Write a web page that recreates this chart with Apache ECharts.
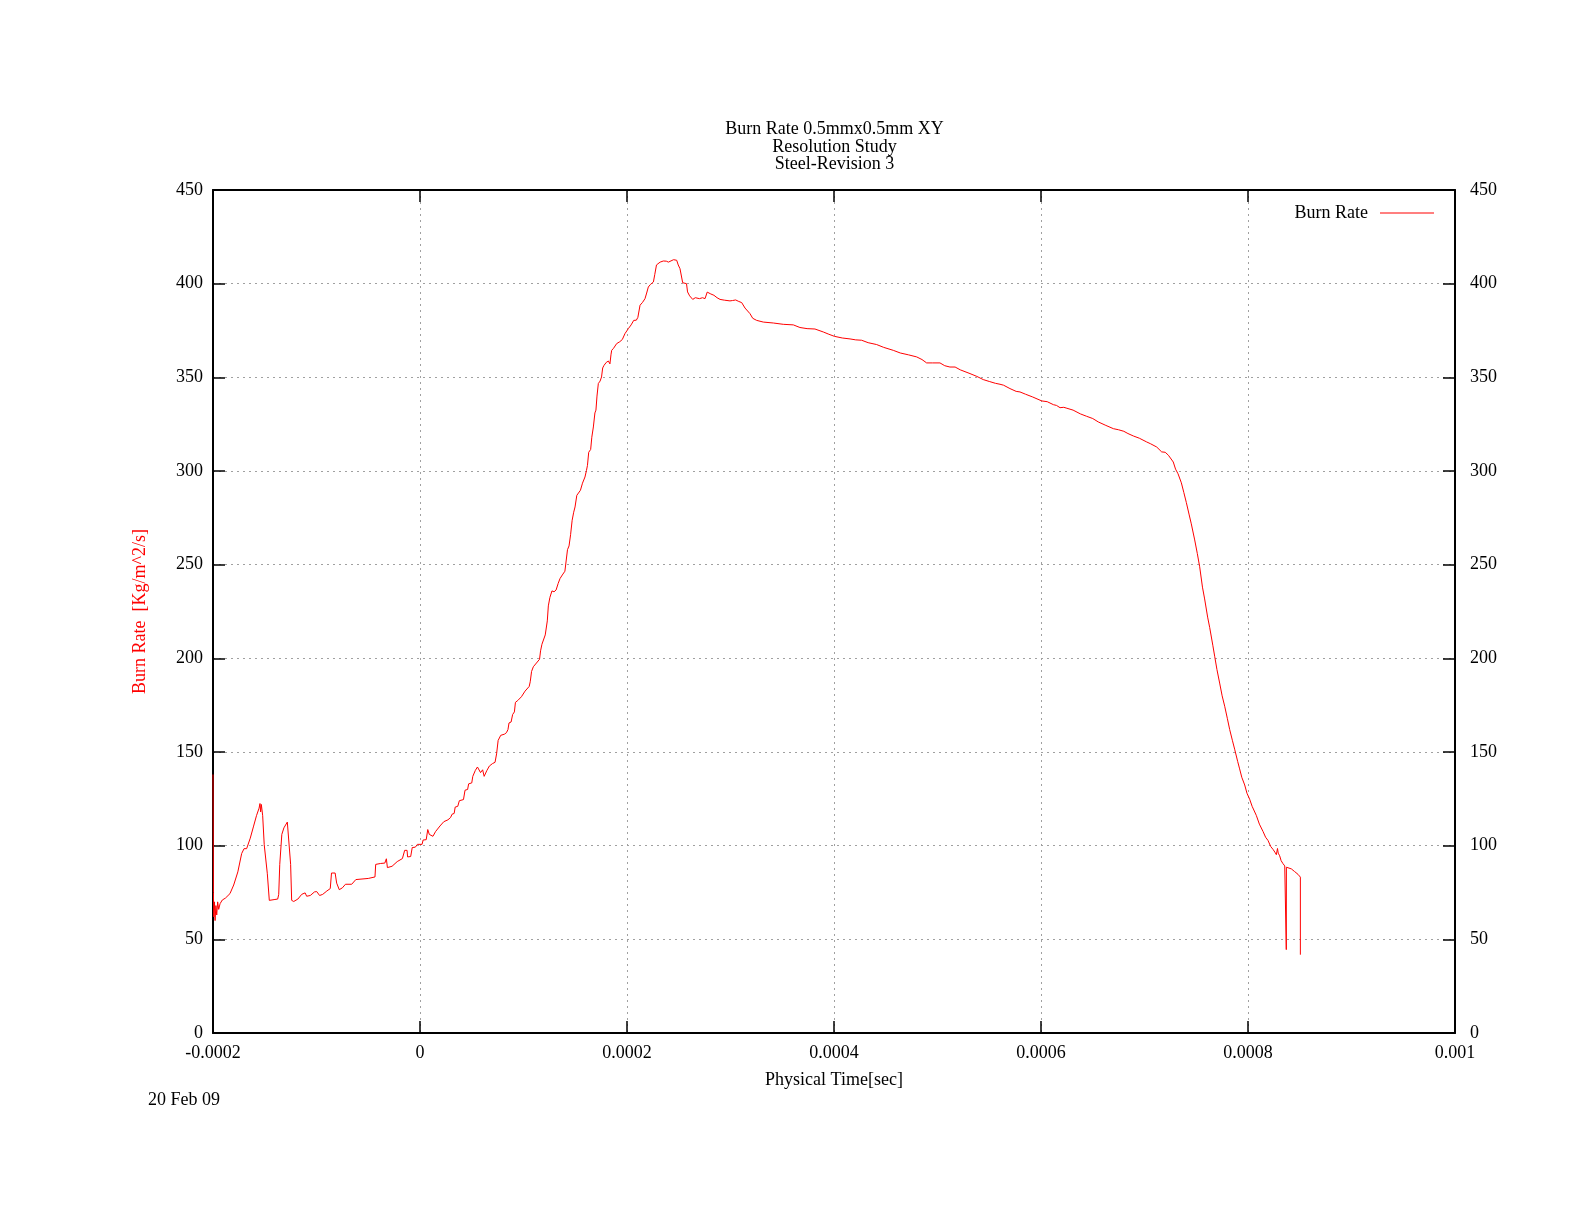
<!DOCTYPE html>
<html>
<head>
<meta charset="utf-8">
<script src="https://cdn.jsdelivr.net/npm/echarts@6/dist/echarts.min.js"></script>
<style>
html,body{margin:0;padding:0;background:#fff;}
#chart{width:1584px;height:1224px;}
</style>
</head>
<body>
<div id="chart"></div>
<script>
// Physical time in microseconds (converted to seconds below)
const timeUs = [
-200,-199.6,-199.2,-198.6,-198.0,-197.2,-196.4,-195.5,-194.5,-193.2,-191,-188,-183.6,-180,-176,-172.3,-170,-167.5,-164,-161,
-158,-155.5,-154.6,-154,-153.3,-152,-150.5,-149.5,-148.6,-147.5,-145.6,-141,-137.5,-136.5,-135.5,-133.5,-131.5,-128.2,-127,-125,
-124,-122,-118,-114.3,-111,-109.5,-106,-102,-99.8,-97,-94,-90,-86.7,-85.5,-82,-80.5,-78,-75,-72,-66,
-62,-50,-43.5,-42.8,-38,-34,-32.5,-31.5,-27,-22,-17,-15.5,-14.8,-12.5,-12,-9,-7.5,-4.5,-2.5,2,
3,6,7.5,9,10.6,12.5,15,19.3,23,27,29.5,31,33,34,36.5,38,42,43.5,46,47,
50,51,53.5,55.5,57,58.5,60.5,62,64.5,67,70,72.5,74,75.5,76.5,78,81.5,83.5,85,86,
88,89.5,91.2,92.2,94.5,98,101.5,105.5,106.5,107.8,109.5,112.5,115.5,116.5,117.8,119.5,121,122.3,123,124,
125.5,126.3,127.5,129.5,131.5,133.5,135.3,137.5,140,141.7,142.5,144,145.5,147,148.5,149.8,151.5,153,155,157,
159.4,160.8,161.8,163,164.9,166,167.5,169,170,171,172.3,174,175.4,176.5,177.8,180,182,183.5,184.5,185.2,
187,190,193,195.5,198,201.3,204,206.5,209,210.5,212.6,215,217.4,219,220.6,222.5,225.5,226.8,228.5,229.3,
232,235.1,238,240,241.5,245,248,249.5,251.2,253,253.8,255.5,257.5,258.5,260.5,263.5,266,270,273,275.4,
276.5,277.5,278.6,281,284,287,289.9,294,299.5,302,305,308,310.8,314,318.8,321.5,325.3,331.7,341.4,351,
360.7,367.1,374,381.6,389.7,395,400.3,408,415.5,421,426.7,433,441.2,448,457.3,464,472,479.9,485,489.5,
495,502.4,507,512,517,522,531.4,538,544.2,550,556,560.4,563.8,570,576,579.7,585,592,600.7,606,
612,615,618.4,622,625,631,638,644.1,650,655.3,662,669.9,675,680,684,689.2,695,702.1,706,711.8,
716.6,720,723.1,727.8,730,732.4,735.6,738,740.4,743,745.2,748.5,751,753.3,756,758.1,761,763,766,767.8,
770,772.6,775,777.5,780,782.3,785,787.1,790,791.9,794,796.8,799,801.6,804,808,811,814.5,817,819.3,
822,824.2,826,827.4,828.5,829.2,830.6,832,833.8,835.5,837,837,837.1,839,841.9,845,848.3,850.6,850.6
];
// Burn rate [Kg/m^2/s]
const burnRate = [
138,75,62,70,60,68,63,70,66,69,71,72,74.4,79,86,95.8,98.4,98.4,104,110,
116,120,122.5,118,122,116,100.5,100.2,101,85,70.8,71.2,71.5,74,90,106,109.5,112.6,112.6,90,
70.8,70.2,71.5,74,74.8,73,73.4,75.3,75.5,73.4,74,75.8,77.1,85.4,85.4,80,76.5,77.5,79.4,79.4,
81.9,82.5,83.3,90,90.5,90.7,93,88.3,89,91.5,93.1,93.5,97.5,97.5,94,94.2,99,99.2,100.7,100.7,
103,103.2,108.6,106,107,105,107.5,110.5,112.8,113.8,115,116.8,117.2,120.6,121,124,124.6,129.6,130,133,
133.5,137,140.2,142,141,139,140.5,137,140,142.5,143.8,144.5,149,156.2,156.5,158.9,159.5,160.3,162,165.5,
166,170,171.4,176.5,177.5,179.5,182.5,185,187.5,193,195.5,197.5,199.5,204,207.5,207.7,212.5,213.2,220,228,
232.5,232.7,236,235.5,236.5,240,242.6,244.5,246.5,247.4,258,260,266,273.7,278,280.8,287,288,289.7,293.5,
296.8,300.2,303,310,311.5,318,323.5,331,332.5,340,346.7,348,350.2,355,356.4,358,358.7,357.2,362,364.4,
365.5,368,369,370.2,373.3,376,378,380.4,380.5,382,388.5,390,392,395,398.2,399.5,400.9,404.8,410,410.7,
411.5,412.1,412,411.5,412.5,412.8,412.5,410,408,407.5,400.5,400.2,400,395.6,393.5,391.6,392.5,392,392.5,392,
393,395.5,395.2,394.5,393.8,392.5,391.6,391.2,390.8,391,391.3,390.5,389.9,387,384,381.5,380.4,379.5,379,378.3,
378,376.6,376,375.8,374.2,373,371.9,371,370.5,370,369.8,368.5,367.5,366,364.4,363,362,360.9,359.5,357.7,
357.7,357.7,356.2,355.5,355.5,354,352,350.5,348.8,347.8,346.8,346.3,345.8,344,342.5,342.2,341,339.5,337.4,337,
335.4,335,333.8,334,333.5,332.5,330.5,329.2,328,326.2,324.5,322.6,322,321.2,320,318.7,317.5,315.5,314.5,312.8,
310.2,310,308.4,304.8,301,298.5,293.7,288.5,283.2,277,271.8,263.2,256,248.9,238,231.7,222,216.4,207,201.1,
194,186.8,180,174.4,168,162,156,151.5,145,141,136.5,132.4,128,124.8,121,116.2,111.5,107.6,104.5,102.8,
99.5,98,96.5,95.2,98.5,96,94.6,92,90.4,89.2,88.5,44.5,88.5,88.2,87.6,86.2,84.7,83.2,41.8
];
const xTickValues = [-0.0002, 0, 0.0002, 0.0004, 0.0006, 0.0008, 0.001];
const yTickValues = [0, 50, 100, 150, 200, 250, 300, 350, 400, 450];
const titleLines = ['Burn Rate 0.5mmx0.5mm XY', 'Resolution Study', 'Steel-Revision 3'];
const seriesName = 'Burn Rate';
const xName = 'Physical Time[sec]';
const yName = 'Burn Rate  [Kg/m^2/s]';
const dateText = '20 Feb 09';

const FONT = '"Liberation Serif", "DejaVu Serif", serif';
const FS = 18;
const data = timeUs.map((t, i) => [t * 1e-6, burnRate[i]]);
const fmtX = v => String(Number(v.toFixed(7)));

const chart = echarts.init(document.getElementById('chart'), null, {renderer: 'canvas'});
const gridLine = {show: true, lineStyle: {color: '#a0a0a0', width: 1, type: [2, 4]}};
const tick = {show: true, inside: true, length: 12, lineStyle: {color: '#000', width: 1.5}};
const axLine = {show: true, onZero: false, lineStyle: {color: '#000', width: 2}};
const lbl = {color: '#000', fontFamily: FONT, fontSize: FS};

chart.setOption({
  animation: false,
  backgroundColor: '#fff',
  textStyle: {fontFamily: FONT},
  legend: {
    data: [{name: seriesName, icon: 'rect'}],
    right: 145, top: 199,
    align: 'right',
    itemWidth: 54, itemHeight: 1,
    itemGap: 0,
    textStyle: {fontFamily: FONT, fontSize: FS, color: '#000', padding: [0, 7, 0, 0]}
  },
  grid: {left: 213, right: 129, top: 190, bottom: 191, show: false},
  xAxis: [{
    type: 'value', min: -0.0002, max: 0.001, interval: 0.0002,
    position: 'bottom',
    name: xName, nameLocation: 'middle', nameGap: 38,
    nameTextStyle: {fontFamily: FONT, fontSize: FS, color: '#000'},
    axisLine: axLine, axisTick: tick,
    axisLabel: Object.assign({margin: 11, formatter: fmtX, showMinLabel: true, showMaxLabel: true}, lbl),
    splitLine: gridLine
  }, {
    type: 'value', min: -0.0002, max: 0.001, interval: 0.0002,
    position: 'top',
    axisLine: axLine, axisTick: tick, axisLabel: {show: false}, splitLine: {show: false}
  }],
  yAxis: [{
    type: 'value', min: 0, max: 450, interval: 50,
    position: 'left',
    name: yName, nameLocation: 'middle', nameGap: 64, nameRotate: 90,
    nameTextStyle: {fontFamily: FONT, fontSize: FS, color: '#ff0000'},
    axisLine: axLine, axisTick: tick,
    axisLabel: Object.assign({margin: 10}, lbl),
    splitLine: gridLine
  }, {
    type: 'value', min: 0, max: 450, interval: 50,
    position: 'right',
    axisLine: axLine, axisTick: tick,
    axisLabel: Object.assign({margin: 15}, lbl),
    splitLine: {show: false}
  }],
  graphic: [{
    type: 'text', x: 834.5, y: 129,
    style: {text: titleLines[0], font: FS + 'px ' + FONT, fill: '#000', textAlign: 'center', textVerticalAlign: 'middle'}
  }, {
    type: 'text', x: 834.5, y: 147,
    style: {text: titleLines[1], font: FS + 'px ' + FONT, fill: '#000', textAlign: 'center', textVerticalAlign: 'middle'}
  }, {
    type: 'text', x: 834.5, y: 164.5,
    style: {text: titleLines[2], font: FS + 'px ' + FONT, fill: '#000', textAlign: 'center', textVerticalAlign: 'middle'}
  }, {
    type: 'text', x: 148, y: 1100,
    style: {text: dateText, font: FS + 'px ' + FONT, fill: '#000', textAlign: 'left', textVerticalAlign: 'middle'}
  }],
  series: [{
    name: seriesName, type: 'line', data: data,
    symbol: 'none', showSymbol: false,
    lineStyle: {color: '#ff0000', width: 1},
    itemStyle: {color: '#ff0000'},
    clip: true
  }]
});
</script>
</body>
</html>
